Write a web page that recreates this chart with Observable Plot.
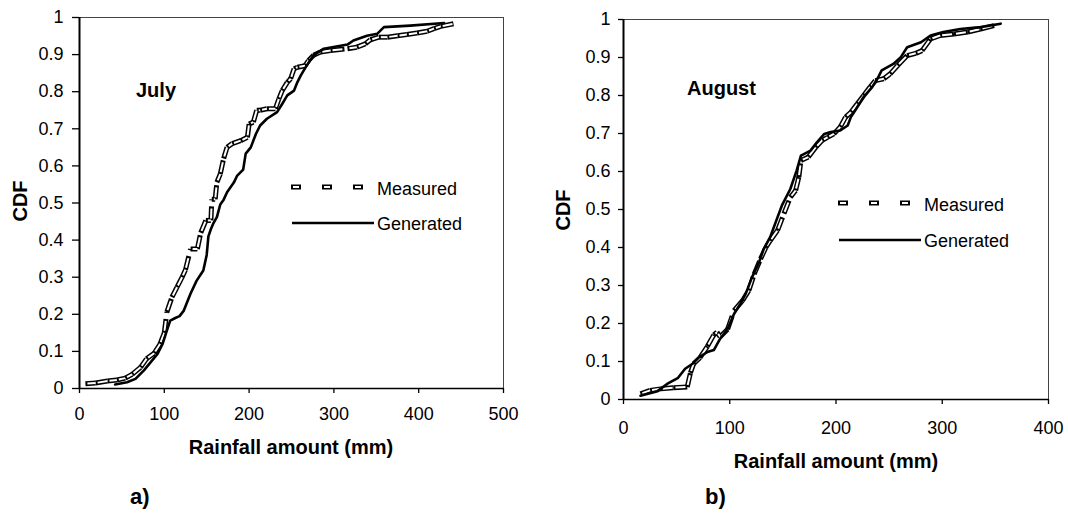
<!DOCTYPE html>
<html>
<head>
<meta charset="utf-8">
<script src="https://cdn.jsdelivr.net/npm/d3@7"></script>
<script src="https://cdn.jsdelivr.net/npm/@observablehq/plot@0.6"></script>
<style>
  html, body { margin: 0; padding: 0; background: #fff; }
  #wrap { position: relative; width: 1068px; height: 516px; overflow: hidden; background: #fff;
          font-family: "Liberation Sans", Arial, sans-serif; color: #000; }
  .abs { position: absolute; white-space: nowrap; line-height: 1; }
  .bold { font-weight: bold; }
  .panel { position: absolute; top: 0; }
</style>
</head>
<body>
<div id="wrap"></div>
<script>
// ---------- data ----------
const yTicks = [0, 0.1, 0.2, 0.3, 0.4, 0.5, 0.6, 0.7, 0.8, 0.9, 1];
const yTickLabels = ["0", "0.1", "0.2", "0.3", "0.4", "0.5", "0.6", "0.7", "0.8", "0.9", "1"];
const julyXTicks = [0, 100, 200, 300, 400, 500];
const augXTicks = [0, 100, 200, 300, 400];

const seriesNames = ["Measured", "Generated"];
const panelTitles = ["July", "August"];
const panelLetters = ["a)", "b)"];
const xAxisTitle = "Rainfall amount (mm)";
const yAxisTitle = "CDF";

const julyMeasuredX = [7, 19, 33, 44, 54, 62, 72, 79, 88, 95, 100, 103, 109, 115, 121, 125, 131, 139, 143, 149, 155, 156, 160, 162, 166, 170, 174, 180, 190, 198, 200, 205, 209, 213, 221, 231, 235, 239, 245, 249, 253, 257, 266, 270, 276, 284, 296, 316, 327, 337, 343, 353, 363, 375, 386, 398, 410, 418, 426, 441];
const julyMeasuredCdf = [0.013, 0.015, 0.02, 0.023, 0.028, 0.038, 0.057, 0.08, 0.095, 0.12, 0.15, 0.206, 0.246, 0.273, 0.30, 0.32, 0.376, 0.376, 0.42, 0.453, 0.453, 0.51, 0.51, 0.556, 0.578, 0.62, 0.65, 0.66, 0.668, 0.677, 0.713, 0.718, 0.75, 0.75, 0.754, 0.754, 0.78, 0.803, 0.825, 0.835, 0.862, 0.866, 0.87, 0.884, 0.898, 0.907, 0.911, 0.916, 0.92, 0.929, 0.94, 0.947, 0.947, 0.951, 0.954, 0.958, 0.963, 0.97, 0.976, 0.983];

const julyGeneratedX = [42, 56, 66, 76, 84, 92, 98, 103, 107, 113, 118, 123, 131, 138, 146, 150, 152, 155, 158, 162, 166, 170, 174, 182, 186, 193, 196, 202, 208, 213, 221, 233, 239, 245, 253, 257, 261, 268, 276, 288, 316, 323, 339, 351, 359, 390, 430];
const julyGeneratedCdf = [0.011, 0.017, 0.026, 0.049, 0.071, 0.093, 0.12, 0.156, 0.183, 0.19, 0.195, 0.21, 0.256, 0.29, 0.318, 0.36, 0.41, 0.43, 0.446, 0.462, 0.496, 0.509, 0.529, 0.555, 0.574, 0.59, 0.633, 0.65, 0.686, 0.709, 0.727, 0.745, 0.767, 0.79, 0.803, 0.826, 0.844, 0.871, 0.898, 0.916, 0.927, 0.938, 0.951, 0.956, 0.974, 0.978, 0.985];

const augMeasuredX = [16, 25, 35, 47, 60, 63, 66, 72, 79, 85, 88, 91, 98, 104, 112, 118, 123, 129, 134, 138, 145, 151, 157, 162, 165, 167, 174, 181, 187, 192, 198, 204, 209, 214, 220, 226, 232, 237, 245, 251, 258, 267, 275, 281, 289, 298, 311, 324, 336, 349];
const augMeasuredCdf = [0.015, 0.024, 0.028, 0.031, 0.033, 0.07, 0.094, 0.11, 0.14, 0.17, 0.177, 0.165, 0.185, 0.234, 0.26, 0.287, 0.33, 0.37, 0.4, 0.418, 0.445, 0.489, 0.532, 0.55, 0.585, 0.629, 0.638, 0.664, 0.682, 0.69, 0.699, 0.717, 0.743, 0.756, 0.778, 0.8, 0.822, 0.839, 0.844, 0.857, 0.879, 0.905, 0.911, 0.918, 0.949, 0.958, 0.962, 0.967, 0.975, 0.984];

const augGeneratedX = [16, 32, 41, 51, 58, 65, 71, 79, 85, 91, 98, 104, 110, 115, 121, 127, 132, 138, 145, 149, 157, 163, 167, 176, 182, 189, 195, 204, 211, 214, 220, 226, 234, 239, 243, 254, 261, 267, 280, 289, 301, 317, 336, 355];
const augGeneratedCdf = [0.01, 0.022, 0.041, 0.056, 0.081, 0.094, 0.111, 0.125, 0.13, 0.16, 0.186, 0.225, 0.252, 0.278, 0.322, 0.357, 0.396, 0.427, 0.48, 0.51, 0.554, 0.603, 0.642, 0.655, 0.677, 0.699, 0.704, 0.708, 0.721, 0.743, 0.769, 0.796, 0.822, 0.844, 0.866, 0.883, 0.901, 0.927, 0.94, 0.958, 0.967, 0.975, 0.98, 0.989];

// ---------- helpers ----------
const toPoints = (xs, ys) => xs.map((x, i) => ({x, y: ys[i]}));
const toSegments = (pts) => d3.pairs(pts).map(([a, b]) => ({x1: a.x, y1: a.y, x2: b.x, y2: b.y}));
const FONT = '"Liberation Sans", Arial, sans-serif';

function panel(cfg) {
  const measured = toPoints(cfg.mx, cfg.my);
  const generated = toPoints(cfg.gx, cfg.gy);
  const segs = toSegments(measured);
  const seg = {x1: "x1", y1: "y1", x2: "x2", y2: "y2", strokeLinecap: "butt"};
  return Plot.plot({
    width: cfg.width, height: cfg.height,
    marginLeft: cfg.ml, marginRight: cfg.mr, marginTop: cfg.mt, marginBottom: cfg.mb,
    style: {fontFamily: FONT, fontSize: "18px", color: "#000", background: "#fff", overflow: "visible"},
    x: {domain: cfg.xDomain},
    y: {domain: [0, 1]},
    marks: [
      Plot.frame({stroke: "#444", strokeWidth: 1}),
      Plot.link(segs, {...seg, stroke: "#000", strokeWidth: 5, strokeDasharray: "14,6"}),
      Plot.link(segs, {...seg, stroke: "#fff", strokeWidth: 2, strokeDasharray: "10,10", strokeDashoffset: -2}),
      Plot.line(generated, {x: "x", y: "y", stroke: "#000", strokeWidth: 2.6, strokeLinejoin: "round"}),
      Plot.axisY({ticks: yTicks, tickFormat: d => yTickLabels[yTicks.indexOf(d)], tickSize: cfg.yTickSize, tickPadding: cfg.yTickPad, label: null, fontSize: 18, strokeWidth: 1.3}),
      Plot.axisX({ticks: cfg.xTicks, tickFormat: d => String(d), tickSize: 5, tickPadding: cfg.xTickPad, label: null, fontSize: 18, strokeWidth: 1.3}),
      Plot.ruleX([cfg.xDomain[0]], {stroke: "#000", strokeWidth: 2}),
      Plot.ruleY([0], {stroke: "#000", strokeWidth: 1.6})
    ]
  });
}

const wrap = document.getElementById("wrap");

function place(el, left) {
  el.classList.add("panel");
  el.style.left = left + "px";
  wrap.appendChild(el);
}

place(panel({width: 530, height: 432, ml: 79, mr: 27, mt: 17, mb: 44, xDomain: [0, 500], xTicks: julyXTicks,
  mx: julyMeasuredX, my: julyMeasuredCdf, gx: julyGeneratedX, gy: julyGeneratedCdf,
  yTickSize: 7, yTickPad: 9, xTickPad: 14}), 0);

place(panel({width: 528, height: 446, ml: 83, mr: 20, mt: 19, mb: 47, xDomain: [0, 400], xTicks: augXTicks,
  mx: augMeasuredX, my: augMeasuredCdf, gx: augGeneratedX, gy: augGeneratedCdf,
  yTickSize: 5, yTickPad: 8, xTickPad: 17}), 540);

// ---------- texts ----------
function addText(txt, left, cy, size, bold) {
  const d = document.createElement("div");
  d.className = "abs" + (bold ? " bold" : "");
  d.textContent = txt;
  d.style.left = left + "px";
  d.style.top = cy + "px";
  d.style.fontSize = size + "px";
  d.style.transform = "translateY(-50%)";
  wrap.appendChild(d);
  return d;
}
function addCentered(txt, cx, cy, size, bold, rotate) {
  const d = document.createElement("div");
  d.className = "abs" + (bold ? " bold" : "");
  d.textContent = txt;
  d.style.left = cx + "px";
  d.style.top = cy + "px";
  d.style.fontSize = size + "px";
  d.style.transform = "translate(-50%,-50%)" + (rotate ? " rotate(-90deg)" : "");
  wrap.appendChild(d);
  return d;
}

// axis titles
addCentered(yAxisTitle, 20, 201, 20, true, true);
addCentered(yAxisTitle, 563, 210, 20, true, true);
addCentered(xAxisTitle, 291, 447, 20, true, false);
addCentered(xAxisTitle, 836, 461, 20, true, false);

// panel titles
addText(panelTitles[0], 136, 90, 20, true);
addText(panelTitles[1], 687, 88, 20, true);

// letters
addText(panelLetters[0], 130, 497, 22, true);
addText(panelLetters[1], 705, 497, 22, true);

// legends
function legend(x0, yM, yG, lenM, lenG, textX) {
  const ns = "http://www.w3.org/2000/svg";
  const svg = document.createElementNS(ns, "svg");
  svg.setAttribute("width", 1068); svg.setAttribute("height", 516);
  svg.style.position = "absolute"; svg.style.left = "0"; svg.style.top = "0"; svg.style.pointerEvents = "none";
  const mk = (x1, y, x2, stroke, w, dash, off) => {
    const l = document.createElementNS(ns, "line");
    l.setAttribute("x1", x1); l.setAttribute("x2", x2);
    l.setAttribute("y1", y); l.setAttribute("y2", y);
    l.setAttribute("stroke", stroke); l.setAttribute("stroke-width", w);
    if (dash) l.setAttribute("stroke-dasharray", dash);
    if (off) l.setAttribute("stroke-dashoffset", off);
    svg.appendChild(l);
  };
  mk(x0, yM, x0 + lenM, "#000", 5, "10,21");
  mk(x0, yM, x0 + lenM, "#fff", 2, "6,25", -2);
  mk(x0 + 1, yG, x0 + 1 + lenG, "#000", 2.6, null);
  wrap.appendChild(svg);
  addText(seriesNames[0], textX, yM + 1.5, 18, false);
  addText(seriesNames[1], textX, yG + 0.5, 18, false);
}
legend(291, 187, 223, 73, 82, 377);
legend(838, 203, 240, 73, 82, 924);
</script>
</body>
</html>
